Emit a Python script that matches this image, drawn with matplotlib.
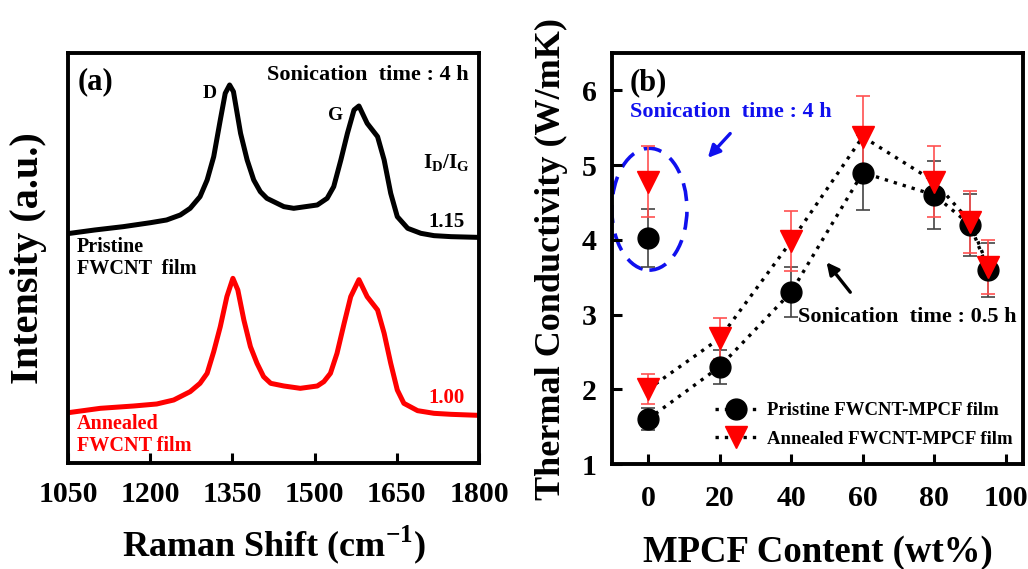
import matplotlib
matplotlib.use("Agg")
import matplotlib.pyplot as plt
from matplotlib.patches import Ellipse
import numpy as np

plt.rcParams['font.family'] = 'Liberation Serif'
plt.rcParams['font.weight'] = 'bold'
plt.rcParams['axes.labelweight'] = 'bold'
plt.rcParams['mathtext.fontset'] = 'custom'
plt.rcParams['mathtext.rm'] = 'Liberation Serif:bold'
plt.rcParams['mathtext.bf'] = 'Liberation Serif:bold'

# ---- (a) Raman spectra (arbitrary intensity units)
pristine_shift = [1054, 1099, 1151, 1201, 1230, 1255, 1273, 1291, 1304, 1316,
                  1328, 1337, 1345, 1352, 1365, 1377, 1389, 1401, 1413, 1444,
                  1462, 1505, 1523, 1535, 1548, 1560, 1572, 1581, 1596, 1615,
                  1627, 1639, 1651, 1670, 1694, 1718, 1749, 1795]
pristine_int = [68.9, 69.9, 70.9, 72.1, 72.9, 74.4, 76.4, 79.9, 84.9, 91.9,
                102.9, 110.9, 113.4, 111.4, 98.9, 90.9, 84.9, 81.4, 79.4, 76.9,
                76.4, 77.4, 79.4, 82.9, 90.9, 98.9, 105.9, 107.1, 101.9, 97.9,
                90.9, 80.9, 73.9, 70.4, 68.9, 68.2, 67.9, 67.7]

annealed_shift = [1051, 1109, 1170, 1212, 1243, 1273, 1291, 1304, 1316, 1328,
                  1340, 1351, 1360, 1371, 1383, 1395, 1407, 1420, 1444, 1474,
                  1505, 1517, 1529, 1541, 1554, 1566, 1581, 1596, 1615, 1627,
                  1639, 1651, 1663, 1688, 1718, 1749, 1798]
annealed_int = [15.1, 16.4, 17.1, 17.7, 18.9, 21.4, 23.9, 26.9, 33.4, 40.9,
                49.9, 55.4, 51.9, 42.9, 34.9, 29.9, 25.9, 23.9, 23.1, 22.4,
                23.1, 24.4, 26.9, 32.9, 41.9, 49.9, 55.0, 49.9, 45.9, 38.9,
                29.9, 21.9, 17.9, 15.7, 14.9, 14.6, 14.3]

raman_ticks = [1050, 1200, 1350, 1500, 1650, 1800]

# ---- (b) thermal conductivity
mpcf = [0, 20, 40, 60, 80, 90, 95]
k_pristine = [1.60, 2.30, 3.30, 4.90, 4.60, 4.20, 3.60]
k_pristine_err = [0.15, 0.23, 0.33, 0.50, 0.45, 0.42, 0.36]
k_annealed = [2.00, 2.68, 3.98, 5.38, 4.78, 4.24, 3.64]
k_annealed_err = [0.20, 0.28, 0.40, 0.55, 0.48, 0.42, 0.36]

# 4 h sonication points (0 wt%)
k4_pristine, k4_pristine_err = 4.02, 0.39
k4_annealed, k4_annealed_err = 4.78, 0.48

fig = plt.figure(figsize=(10.28, 5.69), dpi=100)
ax1 = fig.add_axes([0.0661, 0.1863, 0.3998, 0.7206])
ax2 = fig.add_axes([0.5953, 0.1845, 0.3998, 0.7223])

for ax in (ax1, ax2):
    for sp in ax.spines.values():
        sp.set_linewidth(2.8)
    ax.tick_params(direction='in', length=7, width=2.2, labelsize=21.5)

# ------------------------------------------------------------ panel (a)
ax1.plot(pristine_shift, pristine_int, color='black', lw=3.6)
ax1.plot(annealed_shift, annealed_int, color='#ff0000', lw=3.6)
ax1.set_xlim(1050, 1800)
ax1.set_ylim(0, 123)
ax1.set_xticks(raman_ticks)
ax1.set_yticks([])
ax1.tick_params(axis='x', pad=13)
ax1.set_xlabel(r'Raman Shift (cm$^{-1}$)', fontsize=26, va='center')
ax1.xaxis.set_label_coords(0.5, -0.2)
ax1.set_ylabel('Intensity (a.u.)', fontsize=29, va='center')
ax1.yaxis.set_label_coords(-0.097, 0.5)

ax1.text(1067, 114.3, '(a)', fontsize=22, va='center', ha='left')
ax1.text(1782, 116.4, 'Sonication  time : 4 h', fontsize=16, va='center', ha='right')
ax1.text(1308, 110.7, 'D', fontsize=14, va='center', ha='center')
ax1.text(1538, 104.1, 'G', fontsize=14, va='center', ha='center')
ax1.text(1740, 90, r'I$_\mathrm{D}$/I$_\mathrm{G}$', fontsize=15, va='center', ha='center')
ax1.text(1740, 72.3, '1.15', fontsize=15, va='center', ha='center')
ax1.text(1066, 61.6, 'Pristine\nFWCNT  film', fontsize=14.5, va='center', ha='left',
         linespacing=1.15)
ax1.text(1740, 19.5, '1.00', fontsize=15, va='center', ha='center', color='#ff0000')
ax1.text(1066, 8.3, 'Annealed\nFWCNT film', fontsize=14.5, va='center', ha='left',
         linespacing=1.15, color='#ff0000')

# ------------------------------------------------------------ panel (b)
dots = (0, (1, 1.8))
ax2.errorbar(mpcf, k_pristine, yerr=k_pristine_err, fmt='none', ecolor='#444444',
             elinewidth=1.2, capsize=5, capthick=1.2, zorder=2)
ax2.errorbar(mpcf, k_annealed, yerr=k_annealed_err, fmt='none', ecolor='#ff5050',
             elinewidth=1.2, capsize=5, capthick=1.2, zorder=2)
ax2.errorbar([0], [k4_pristine], yerr=[k4_pristine_err], fmt='none',
             ecolor='#444444', elinewidth=1.2, capsize=5, capthick=1.2, zorder=2)
ax2.errorbar([0], [k4_annealed], yerr=[k4_annealed_err], fmt='none',
             ecolor='#ff5050', elinewidth=1.2, capsize=5, capthick=1.2, zorder=2)

ax2.plot(mpcf, k_pristine, color='black', ls=dots, lw=2.4, marker='o', ms=15,
         mfc='black', mec='black', label='Pristine FWCNT-MPCF film', zorder=3)
ax2.plot(mpcf, k_annealed, color='black', ls=dots, lw=2.4, marker='v', ms=16,
         mfc='#ff0000', mec='#ff0000', label='Annealed FWCNT-MPCF film', zorder=4)
ax2.plot([0], [k4_pristine], ls='none', marker='o', ms=15, color='black', zorder=3)
ax2.plot([0], [k4_annealed], ls='none', marker='v', ms=16, color='#ff0000', zorder=4)

ax2.add_patch(Ellipse((0.4, 4.41), 21, 1.63, fill=False, edgecolor='#1010ee',
                      lw=2.6, ls=(0, (5, 3))))

ax2.set_xlim(-10.05, 104.75)
ax2.set_ylim(1, 6.5)
ax2.set_xticks([0, 20, 40, 60, 80, 100])
ax2.set_yticks([1, 2, 3, 4, 5, 6])
ax2.tick_params(axis='x', pad=15)
ax2.tick_params(axis='y', pad=11)
ax2.set_xlabel('MPCF Content (wt%)', fontsize=26.5, va='center')
ax2.xaxis.set_label_coords(0.5, -0.215)
ax2.set_ylabel('Thermal Conductivity (W/mK)', fontsize=26, va='center')
ax2.yaxis.set_label_coords(-0.146, 0.5)

ax2.text(-5.0, 6.1, '(b)', fontsize=22, va='center', ha='left')
ax2.text(-5.0, 5.71, 'Sonication  time : 4 h', fontsize=16, va='center', ha='left',
         color='#1010ee')
ax2.annotate('', xy=(16.2, 5.07), xytext=(23.5, 5.45),
             arrowprops=dict(arrowstyle='-|>', color='#1010ee', lw=2.4,
                             mutation_scale=18))
ax2.text(41.9, 2.97, 'Sonication  time : 0.5 h', fontsize=16, va='center', ha='left')
ax2.annotate('', xy=(49.4, 3.73), xytext=(57.0, 3.27),
             arrowprops=dict(arrowstyle='-|>', color='black', lw=2.4,
                             mutation_scale=18))

ax2.legend(loc='lower left', bbox_to_anchor=(0.25, 0.04), frameon=False,
           fontsize=13.5, numpoints=1, handlelength=2.3, handletextpad=0.5,
           borderpad=0, borderaxespad=0, labelspacing=0.6)

fig.savefig('out.png', dpi=100)
